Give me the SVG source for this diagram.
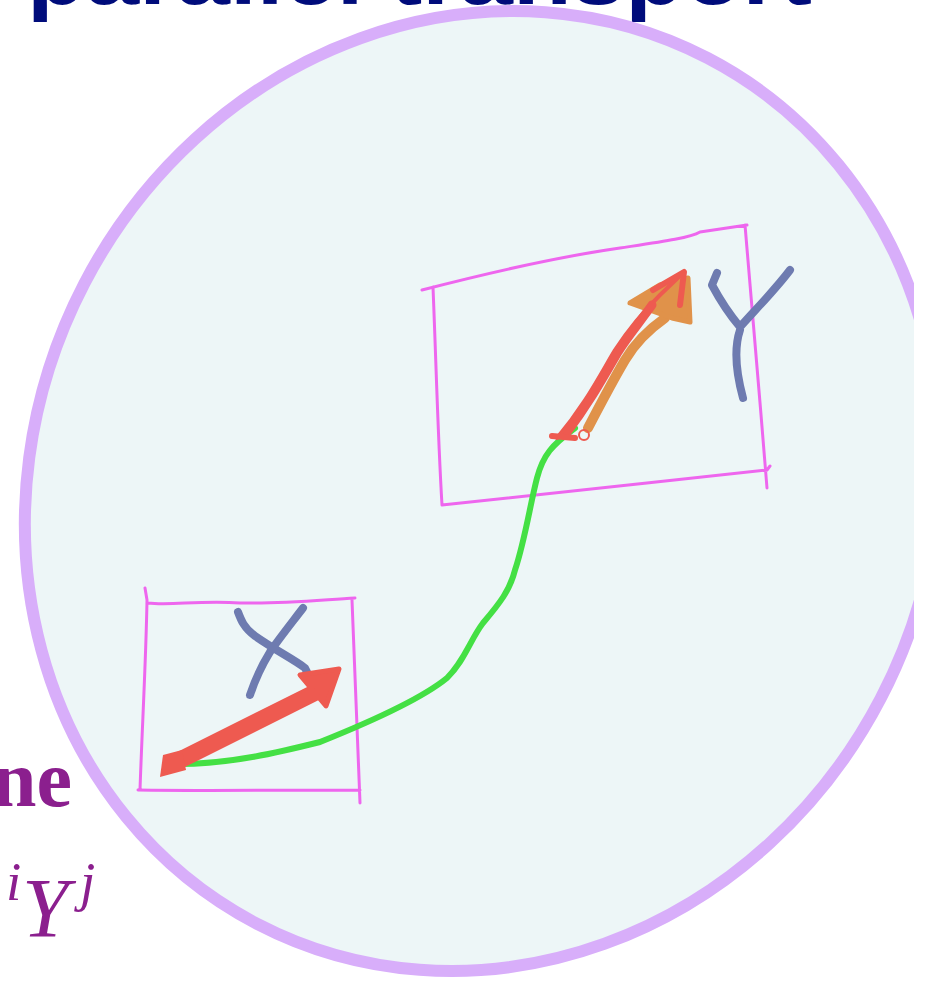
<svg xmlns="http://www.w3.org/2000/svg" width="925" height="981" viewBox="0 0 925 981">
<defs>
<clipPath id="clip"><rect x="0" y="0" width="914" height="981"/></clipPath>
<style>
.box{fill:none;stroke:#EE66EE;stroke-width:3;stroke-linecap:round;stroke-linejoin:round}
.ink{fill:none;stroke:#6E7BB0;stroke-width:8;stroke-linecap:round;stroke-linejoin:round}
.red{fill:none;stroke:#EE5A50;stroke-linecap:round;stroke-linejoin:round}
.title{font-family:"Liberation Sans",Arial,sans-serif;font-weight:bold;fill:#000C7B}
.math{font-family:"Liberation Serif","Times New Roman",serif;fill:#8B1F8E}
</style>
</defs>
<text class="title" x="27" y="4" font-size="86" textLength="785" lengthAdjust="spacingAndGlyphs">parallel transport</text>
<g id="manifold" clip-path="url(#clip)">
<ellipse cx="482.5" cy="491" rx="449" ry="488" transform="rotate(27.5 482.5 491)" fill="#EDF6F7" stroke="#D8AEFA" stroke-width="12"/>
</g>
<text class="math" x="72" y="806" font-size="80" font-weight="bold" text-anchor="end">ne</text>
<text class="math" x="6" y="900" font-size="55" font-style="italic">i</text>
<text class="math" x="22" y="937" font-size="84" font-style="italic">Y</text>
<text class="math" x="80" y="900" font-size="55" font-style="italic">j</text>
<g id="tangent-space-x">
<path class="box" d="M145,588 L147,600 C146,660 142,730 140,790 M148,603 C170,606 200,600 240,603 C280,604 320,600 355,598 M352,600 C355,660 357,740 360,803 M138,790 C200,791 280,790 360,790"/>
<path class="ink" d="M238,612 C241,620 244,628 255,636 C275,650 295,660 305,668 L310,678 M303,608 C290,625 278,640 270,652 C262,665 255,680 250,695"/>
</g>
<g id="tangent-space-y">
<path class="box" d="M422,290 C480,275 550,258 620,248 C660,242 690,238 700,232 L747,225 M433,287 C436,360 438,440 442,505 M442,505 C540,494 660,482 767,470 L770,466 M745,225 C752,310 760,400 767,488"/>
<path class="ink" d="M717,273 L712,285 C720,300 730,315 740,327 C755,310 775,290 790,270 M740,330 C735,345 734,365 743,398"/>
</g>
<g id="connectors">
<path d="M180,764 C230,764 280,752 320,742 C370,722 420,700 447,678 C465,660 470,640 483,623 C500,603 510,590 515,570 C525,540 530,505 537,478 C543,455 552,445 575,428" fill="none" stroke="#44E044" stroke-width="6" stroke-linecap="round"/>
<path class="red" stroke-width="17" d="M172,764 L316,692"/>
<polygon points="300,675 339,669 326,706" fill="#EE5A50" stroke="#EE5A50" stroke-width="5" stroke-linejoin="round"/>
<polygon points="160,777 163,755 182,750 186,770" fill="#EE5A50"/>
<path d="M588,428 C600,405 612,382 625,360 C635,343 648,330 665,318" fill="none" stroke="#E0924A" stroke-width="10" stroke-linecap="round"/>
<polygon points="630,303 660,285 688,278 690,322 672,318" fill="#E0924A" stroke="#E0924A" stroke-width="5" stroke-linejoin="round"/>
<path class="red" stroke-width="9" d="M565,435 C588,405 603,378 618,352 C628,336 640,322 652,305"/>
<path class="red" stroke-width="4" d="M557,438 C585,405 600,375 615,350 C625,335 640,315 660,295 L684,272"/>
<path class="red" stroke-width="6" d="M653,290 L684,272 L680,305"/>
<path class="red" stroke-width="6" d="M552,436 L575,438"/>
<circle cx="584" cy="435" r="5" class="red" stroke-width="2"/>
</g>
</svg>
